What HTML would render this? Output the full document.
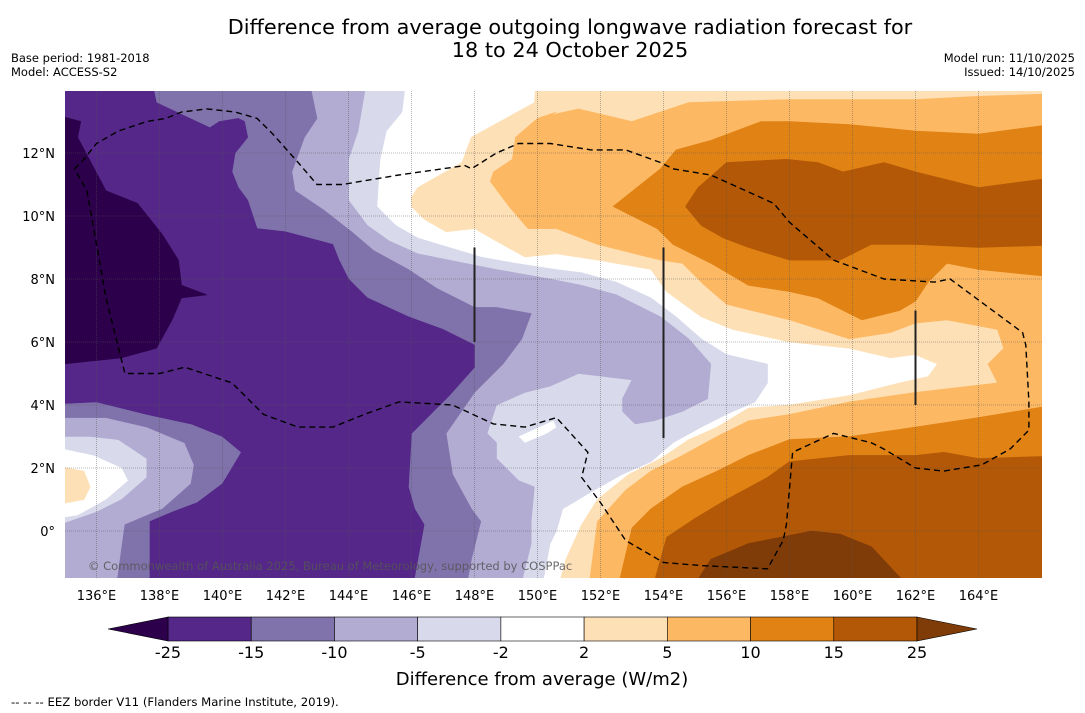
<!DOCTYPE html>
<html><head><meta charset="utf-8">
<style>
html,body{margin:0;padding:0;background:#fff;}
svg{display:block;font-family:"DejaVu Sans","Liberation Sans",sans-serif;}
</style></head>
<body>
<svg id="chart" width="1085" height="713" viewBox="0 0 1085 713" xmlns="http://www.w3.org/2000/svg">
<rect x="0" y="0" width="1085" height="713" fill="#fff"/>
<text x="570" y="34" font-size="20.8" text-anchor="middle" fill="#000">Difference from average outgoing longwave radiation forecast for</text>
<text x="570" y="57" font-size="20.8" text-anchor="middle" fill="#000">18 to 24 October 2025</text>
<text x="11" y="62" font-size="11.5">Base period: 1981-2018</text>
<text x="11" y="76" font-size="11.5">Model: ACCESS-S2</text>
<text x="1075" y="62" font-size="11.5" text-anchor="end">Model run: 11/10/2025</text>
<text x="1075" y="76" font-size="11.5" text-anchor="end">Issued: 14/10/2025</text>
<defs><clipPath id="mapclip"><rect x="65" y="91" width="977" height="487"/></clipPath></defs>
<g id="map" clip-path="url(#mapclip)"></g>
<g id="axes"></g>
<g id="cbar"></g>
<text x="542" y="685" font-size="18" text-anchor="middle">Difference from average (W/m2)</text>
<text x="11" y="706" font-size="11.7">--  --  -- EEZ border V11 (Flanders Marine Institute, 2019).</text>
</svg>
<script>
const lonTicks = [136,138,140,142,144,146,148,150,152,154,156,158,160,162,164];
const latTicks = [0,2,4,6,8,10,12];
const levels = [-25,-15,-10,-5,-2,2,5,10,15,25];
const bandColors = ["#542788","#8073ac","#b2abd2","#d8daeb","#ffffff","#fee0b6","#fdb863","#e08214","#b35806"];
const underColor = "#2d004b";
const overColor = "#7f3b08";

// contour regions [lon, lat]
const negLe2 = [[134,15],[145.9,15],[145.7,13.3],[145.2,12.7],[145.0,11.8],[144.9,10.3],[145.5,9.7],[146.2,9.3],[147.2,9.0],[148.2,8.7],[149.3,8.5],[150.6,8.3],[151.4,8.2],[152.5,7.9],[153.6,7.4],[154.4,6.8],[155.2,6.1],[156.0,5.6],[157.3,5.3],[157.3,4.7],[156.9,4.1],[156.0,3.7],[155.2,3.3],[154.3,2.8],[153.6,2.2],[152.7,1.8],[151.8,1.3],[150.8,0.7],[150.6,0.0],[150.4,-0.4],[150.1,-2],[134,-2]];
const holeWest = [[134,2.8],[135.9,2.4],[136.8,2.0],[137.0,1.6],[136.3,1.0],[135.4,0.5],[134,0.3]];
const holeMid = [[149.4,3.0],[150.5,3.5],[150.6,3.3],[150.3,3.1],[149.6,2.8]];
const negLe5 = [[134,15],[144.7,15],[144.3,12.7],[144.0,11.8],[144.0,10.5],[144.6,9.7],[145.3,9.2],[146.2,8.8],[147.7,8.5],[148.7,8.3],[150.4,8.0],[151.4,7.8],[152.5,7.5],[153.9,6.8],[154.8,6.1],[155.5,5.3],[155.4,4.2],[154.6,3.8],[153.7,3.5],[153.1,3.4],[152.7,3.8],[152.7,4.2],[153.0,4.8],[151.3,5.0],[150.4,4.6],[149.6,4.4],[148.7,4.0],[148.4,3.1],[148.7,2.8],[148.7,2.3],[149.4,1.6],[149.9,1.4],[149.8,0.3],[149.8,-0.4],[149.4,-2],[134,-2],[134,-0.1],[136.0,0.6],[136.8,1.0],[137.6,1.7],[137.6,2.3],[136.7,2.9],[135.8,3.0],[134,3.0]];
const negLe10 = [[134,15],[142.6,15],[143.0,13.1],[142.6,12.5],[142.2,11.4],[142.3,10.8],[143.2,10.2],[144.1,9.5],[144.8,8.9],[145.9,8.3],[146.8,7.7],[148.0,7.1],[148.7,7.1],[149.8,6.9],[149.5,6.1],[148.9,5.3],[148.0,4.4],[147.1,3.1],[147.3,1.8],[147.9,0.7],[148.2,0.3],[147.9,-0.9],[147.7,-2],[136.6,-2],[136.9,0.2],[138.1,0.7],[139.0,1.5],[139.1,2.1],[138.8,2.8],[137.6,3.3],[136.3,3.6],[134,3.6]];
const negLe15 = [[134,15],[137.6,15],[137.9,13.6],[139.6,12.8],[139.9,13.0],[140.5,13.1],[140.7,13.0],[140.8,12.5],[140.4,12.0],[140.3,11.4],[140.5,10.9],[140.8,10.5],[141.1,9.6],[142.0,9.5],[143.5,9.1],[143.7,8.6],[144.0,8.0],[144.6,7.4],[145.9,6.8],[147.0,6.4],[148.0,5.9],[148.0,5.2],[147.2,4.3],[146.7,3.8],[146.0,3.1],[145.9,1.4],[146.1,0.7],[146.4,0.2],[146.0,-2],[137.7,-2],[137.7,0.3],[138.4,0.6],[139.2,0.9],[140.0,1.5],[140.3,2.0],[140.6,2.5],[140.0,3.0],[139.0,3.4],[137.6,3.7],[136.0,4.1],[134,4.0]];
const negLe25 = [[134,13.4],[135.5,13.0],[135.4,12.5],[136.3,10.8],[137.3,10.4],[138.1,9.4],[138.6,8.6],[138.7,7.8],[139.5,7.5],[138.7,7.4],[138.4,6.7],[137.9,5.8],[136.8,5.5],[134,5.2]];
const posGe2West = [[134,2.2],[135.6,1.9],[135.8,1.4],[135.6,1.0],[134,0.7]];
const posGe2 = [[150.0,15],[149.9,13.6],[147.9,12.5],[147.6,11.7],[146.2,10.9],[146.0,10.6],[146.0,10.3],[146.4,9.9],[147.1,9.5],[148.0,9.6],[148.7,9.2],[149.6,8.7],[150.6,8.8],[151.9,8.6],[153.6,8.3],[154.1,7.6],[155.2,6.8],[156.2,6.4],[158.0,6.0],[159.9,5.8],[161.2,5.5],[162.0,5.6],[162.7,5.3],[162.4,4.9],[161.5,4.7],[159.9,4.3],[158.0,4.0],[156.7,3.9],[155.7,3.3],[154.8,2.9],[153.9,2.3],[152.9,1.8],[151.9,1.0],[151.4,0.2],[150.9,-0.9],[150.6,-2],[167,-2],[167,15]];
const posGe5 = [[150.4,13.2],[151.3,13.4],[153.0,13.0],[154.8,13.6],[158.0,13.7],[162.0,13.7],[164.0,13.8],[167,13.9],[167,-2],[151.6,-2],[151.9,0.3],[152.8,1.3],[153.6,1.9],[154.6,2.4],[155.7,3.0],[156.7,3.5],[158.0,3.7],[159.9,4.1],[162.0,4.4],[164.6,4.7],[164.3,5.3],[164.8,5.8],[164.6,6.4],[163.0,6.7],[162.0,6.6],[161.2,6.3],[159.9,6.1],[158.0,6.7],[156.0,7.2],[155.3,7.8],[154.6,8.5],[153.9,8.6],[151.9,9.1],[150.6,9.6],[149.7,9.6],[149.1,10.3],[148.5,11.1],[148.6,11.4],[149.2,11.8],[149.3,12.5],[150.0,13.1],[150.6,13.3]];
const posGe10North = [[152.4,10.3],[153.9,11.5],[154.4,12.1],[155.5,12.4],[157.1,13.0],[158.0,13.0],[159.9,12.9],[162.0,12.7],[164.0,12.6],[167,13.0],[167,8.0],[164.0,8.3],[163.0,8.5],[162.4,7.9],[162.0,7.3],[161.5,7.0],[160.3,6.7],[158.9,7.4],[158.0,7.6],[156.7,7.8],[155.5,8.5],[154.3,9.1],[153.8,9.6]];
const posGe10South = [[167,4.1],[164.0,3.6],[162.0,3.3],[159.9,3.0],[158.0,2.9],[156.7,2.4],[155.7,1.9],[154.6,1.4],[153.6,0.7],[153.0,0.1],[152.5,-2],[167,-2]];
const posGe15North = [[154.7,10.3],[155.1,10.9],[156.0,11.7],[157.9,11.8],[158.9,11.7],[159.7,11.4],[161.0,11.7],[162.0,11.4],[164.0,10.9],[167,11.3],[167,9.1],[164.0,9.0],[162.0,9.1],[160.6,9.1],[159.6,8.6],[158.0,8.6],[156.7,9.0],[155.9,9.3],[155.2,9.7]];
const posGe15South = [[167,2.4],[164.0,2.3],[162.9,2.5],[162.0,2.4],[159.9,2.4],[158.0,2.2],[157.3,1.7],[156.0,1.0],[155.0,0.4],[154.1,-0.2],[153.6,-2],[167,-2]];
const posGe25 = [[154.8,-2],[155.5,-0.9],[156.7,-0.4],[158.7,0.0],[159.6,-0.1],[160.6,-0.5],[162.0,-2]];
const eezBorder = [[135.3,11.5],[135.6,11.8],[136.0,12.3],[136.7,12.7],[137.6,13.0],[138.2,13.1],[138.7,13.3],[139.5,13.4],[140.4,13.3],[141.1,13.1],[141.6,12.6],[142.4,11.7],[143.0,11.0],[143.8,11.0],[145.6,11.3],[147.7,11.6],[147.9,11.5],[148.7,12.0],[149.4,12.3],[150.4,12.3],[151.7,12.1],[152.8,12.1],[153.9,11.7],[154.3,11.5],[155.5,11.3],[157.5,10.4],[158.0,9.8],[159.4,8.6],[161.0,8.0],[162.6,7.9],[163.1,8.0],[165.4,6.3],[165.5,5.9],[165.6,4.1],[165.6,3.2],[165.0,2.6],[164.1,2.1],[162.9,1.9],[162.0,2.0],[161.0,2.6],[160.6,2.8],[159.4,3.1],[158.1,2.5],[157.9,0.2],[157.8,-0.3],[157.3,-1.2],[155.2,-1.1],[154.0,-1.0],[152.8,-0.3],[152.0,0.9],[151.4,1.7],[151.6,2.5],[150.6,3.6],[149.6,3.3],[148.6,3.4],[147.3,4.0],[145.6,4.1],[144.5,3.7],[143.5,3.3],[142.4,3.3],[141.3,3.7],[140.3,4.7],[138.8,5.2],[138.0,5.0],[136.9,5.0],[136.3,7.4],[135.7,10.8],[135.3,11.5]];
const boundaryLines = [[148,9,6],[154,9,2.95],[162,7,4]];

const NS = "http://www.w3.org/2000/svg";
function X(lon){ return 65 + (lon - 135) * 31.5; }
function Y(lat){ return 531 - lat * 31.5; }
function pts(arr){ return arr.map(p => X(p[0]).toFixed(1) + "," + Y(p[1]).toFixed(1)).join(" "); }
const map = document.getElementById("map");
function poly(arr, fill, name){
  const e = document.createElementNS(NS, "polygon");
  e.setAttribute("points", pts(arr));
  e.setAttribute("fill", fill);
  e.setAttribute("stroke", fill === "#ffffff" ? "none" : fill);
  e.setAttribute("stroke-width", "0.6");
  
  
  map.appendChild(e);
}
const bg = document.createElementNS(NS, "rect");
bg.setAttribute("x", 65); bg.setAttribute("y", 91); bg.setAttribute("width", 977); bg.setAttribute("height", 487); bg.setAttribute("fill", "#fff");


map.appendChild(bg);

poly(negLe2, bandColors[3], "contour-below-minus2");
poly(holeWest, bandColors[4], "contour-near-zero-west");
poly(holeMid, bandColors[4], "contour-near-zero-mid");
poly(negLe5, bandColors[2], "contour-below-minus5");
poly(negLe10, bandColors[1], "contour-below-minus10");
poly(negLe15, bandColors[0], "contour-below-minus15");
poly(negLe25, underColor, "contour-below-minus25");
poly(posGe2West, bandColors[5], "contour-above-2-west");
poly(posGe2, bandColors[5], "contour-above-2");
poly(posGe5, bandColors[6], "contour-above-5");
poly(posGe10North, bandColors[7], "contour-above-10-north");
poly(posGe10South, bandColors[7], "contour-above-10-south");
poly(posGe15North, bandColors[8], "contour-above-15-north");
poly(posGe15South, bandColors[8], "contour-above-15-south");
poly(posGe25, overColor, "contour-above-25");

// gridlines
lonTicks.forEach(lon => {
  const l = document.createElementNS(NS, "line");
  l.setAttribute("x1", X(lon)); l.setAttribute("x2", X(lon)); l.setAttribute("y1", 91); l.setAttribute("y2", 578);
  l.setAttribute("stroke", "#555"); l.setAttribute("stroke-width", "0.8"); l.setAttribute("stroke-dasharray", "1,1"); l.setAttribute("opacity", "0.55");
  
  
  map.appendChild(l);
});
latTicks.forEach(lat => {
  const l = document.createElementNS(NS, "line");
  l.setAttribute("x1", 65); l.setAttribute("x2", 1042); l.setAttribute("y1", Y(lat)); l.setAttribute("y2", Y(lat));
  l.setAttribute("stroke", "#555"); l.setAttribute("stroke-width", "0.8"); l.setAttribute("stroke-dasharray", "1,1"); l.setAttribute("opacity", "0.55");
  
  
  map.appendChild(l);
});
// EEZ
const eez = document.createElementNS(NS, "polyline");
eez.setAttribute("points", pts(eezBorder));
eez.setAttribute("fill", "none"); eez.setAttribute("stroke", "#000"); eez.setAttribute("stroke-width", "1.4"); eez.setAttribute("stroke-dasharray", "6,4");


map.appendChild(eez);
boundaryLines.forEach(b => {
  const l = document.createElementNS(NS, "line");
  l.setAttribute("x1", X(b[0])); l.setAttribute("x2", X(b[0])); l.setAttribute("y1", Y(b[1])); l.setAttribute("y2", Y(b[2]));
  l.setAttribute("stroke", "#222"); l.setAttribute("stroke-width", "2");
  
  
  map.appendChild(l);
});
const cr = document.createElementNS(NS, "text");
cr.setAttribute("x", 88); cr.setAttribute("y", 570); cr.setAttribute("font-size", "11.5"); cr.setAttribute("fill", "#555"); cr.setAttribute("opacity", "0.85");
cr.textContent = "© Commonwealth of Australia 2025, Bureau of Meteorology, supported by COSPPac";


map.appendChild(cr);

// axes labels
const axes = document.getElementById("axes");
lonTicks.forEach(lon => {
  const t = document.createElementNS(NS, "text");
  t.setAttribute("x", X(lon)); t.setAttribute("y", 600); t.setAttribute("font-size", "13"); t.setAttribute("text-anchor", "middle");
  t.textContent = lon + "°E";
  
  
  axes.appendChild(t);
});
latTicks.forEach(lat => {
  const t = document.createElementNS(NS, "text");
  t.setAttribute("x", 55); t.setAttribute("y", Y(lat) + 5); t.setAttribute("font-size", "13"); t.setAttribute("text-anchor", "end");
  t.textContent = lat === 0 ? "0°" : lat + "°N";
  
  
  axes.appendChild(t);
});

// colorbar
const cbar = document.getElementById("cbar");
const cbX0 = 168, cbX1 = 917, cbY = 617, cbH = 24;
const segW = (cbX1 - cbX0) / bandColors.length;
bandColors.forEach((c, i) => {
  const r = document.createElementNS(NS, "rect");
  r.setAttribute("x", cbX0 + i * segW); r.setAttribute("y", cbY); r.setAttribute("width", segW); r.setAttribute("height", cbH);
  r.setAttribute("fill", c); r.setAttribute("stroke", "#000"); r.setAttribute("stroke-width", "0.6");
  
  
  cbar.appendChild(r);
});
const triL = document.createElementNS(NS, "polygon");
triL.setAttribute("points", `${cbX0},${cbY} 108,${cbY + cbH / 2} ${cbX0},${cbY + cbH}`);
triL.setAttribute("fill", underColor); triL.setAttribute("stroke", "#000"); triL.setAttribute("stroke-width", "0.6");


cbar.appendChild(triL);
const triR = document.createElementNS(NS, "polygon");
triR.setAttribute("points", `${cbX1},${cbY} 977,${cbY + cbH / 2} ${cbX1},${cbY + cbH}`);
triR.setAttribute("fill", overColor); triR.setAttribute("stroke", "#000"); triR.setAttribute("stroke-width", "0.6");


cbar.appendChild(triR);
levels.forEach((v, i) => {
  const t = document.createElementNS(NS, "text");
  t.setAttribute("x", cbX0 + i * segW); t.setAttribute("y", 658); t.setAttribute("font-size", "16"); t.setAttribute("text-anchor", "middle");
  t.textContent = v;
  
  
  cbar.appendChild(t);
});
</script>
</body></html>
